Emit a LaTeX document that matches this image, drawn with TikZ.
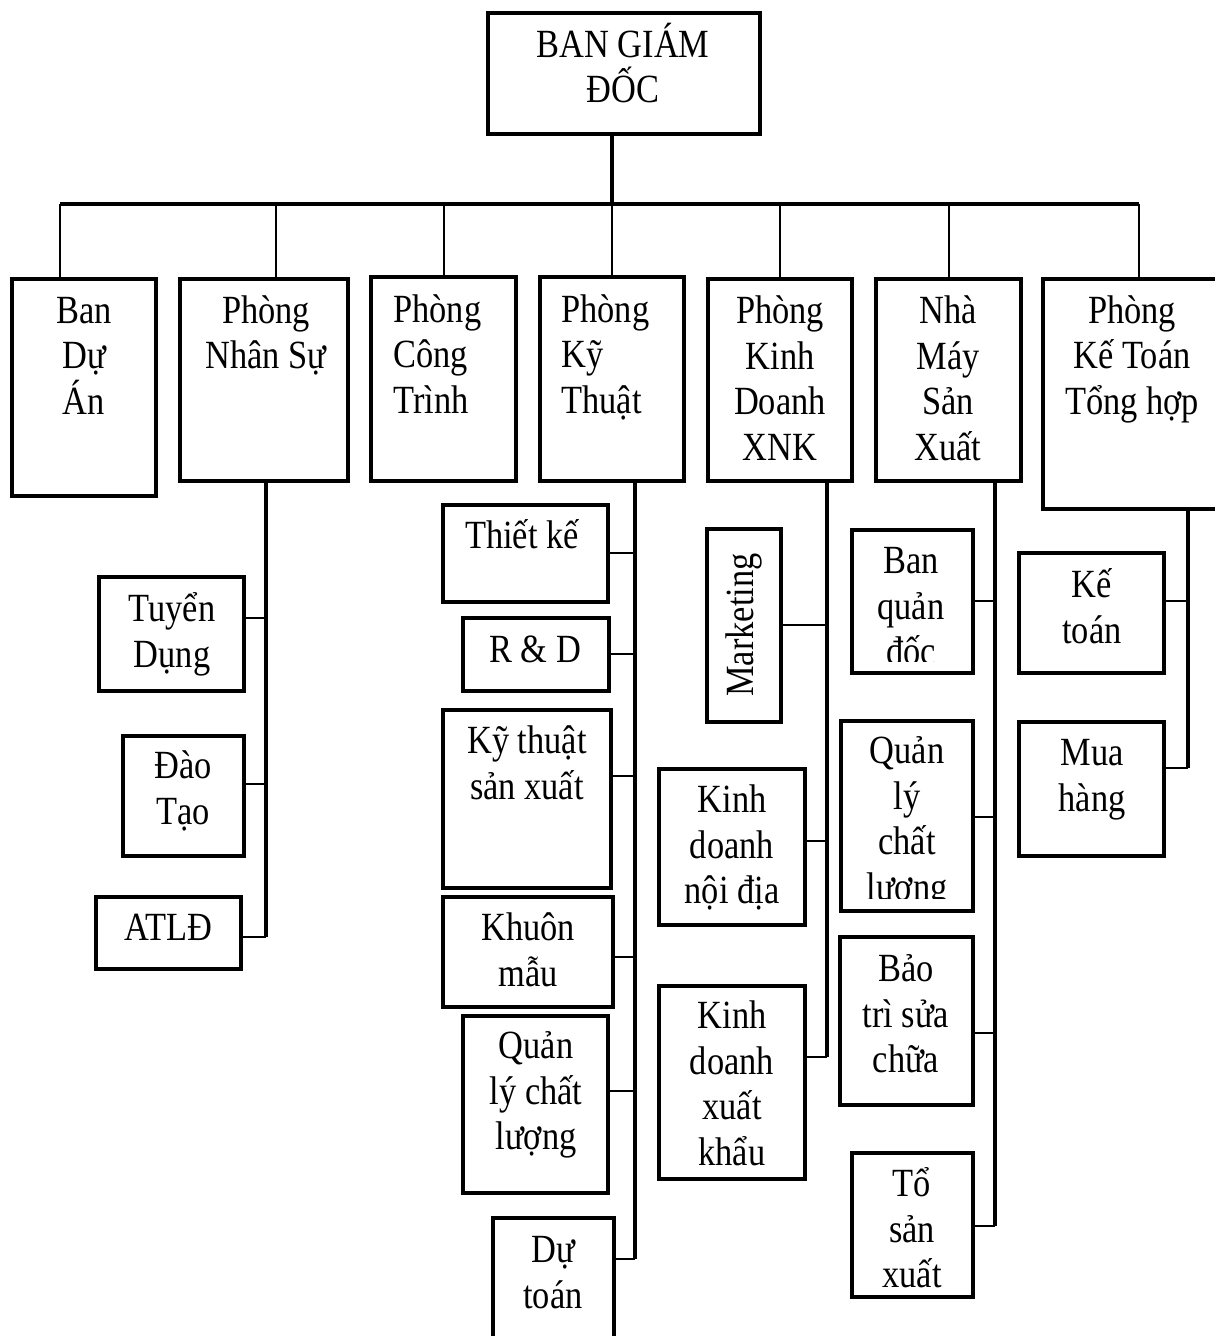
\documentclass[tikz,border=0pt]{standalone}
\usepackage{fontspec}
\setmainfont{Liberation Serif}[FakeStretch=0.86]
\newcommand\bx[5]{\node[bxs, minimum width={(#4-#2)*0.5pt}, minimum height={(#5-#3)*0.5pt}] (#1) at ({(#2+#4)/2},{(#3+#5)/2}) {};}
\newcommand\tx[4]{\node[lbl] (#1) at (#2,{#3-40}) {\rule{0pt}{20pt}#4};}
\newcommand\txl[4]{\node[lbll] (#1) at (#2,{#3-40}) {\rule{0pt}{20pt}#4};}
\newcommand\cnx[3]{\draw[cn] (#1.east |- 0,#3) -- (#2 |- 0,#3);}
\begin{document}
\begin{tikzpicture}[x=0.5pt,y=-0.5pt,
  bxs/.style={draw, rectangle, line width=2pt, inner sep=0pt},
  lbl/.style={inner sep=0pt, font=\fontsize{20}{22.8}\selectfont, align=center, anchor=north},
  lbll/.style={lbl, align=left, anchor=north west},
  busline/.style={line width=2.4pt},
  drop/.style={line width=1pt},
  spine/.style={line width=1.6pt},
  cn/.style={line width=1pt}]
\useasboundingbox (0,0) rectangle (1214,1336);

% top
\bx{bgd}{488}{13}{760}{134}
\tx{bgdT}{623}{57}{BAN GIÁM\\ĐỐC}

% level 1
\bx{bda}{12}{279}{156}{496}
\tx{bdaT}{84}{323}{Ban\\Dự\\Án}
\bx{pns}{180}{279}{348}{481}
\tx{pnsT}{266}{323}{Phòng\\Nhân Sự}
\bx{pct}{371}{277}{516}{481}
\txl{pctT}{393}{322}{Phòng\\Công\\Trình}
\bx{pkt}{540}{277}{684}{481}
\txl{pktT}{561}{322}{Phòng\\Kỹ\\Thuật}
\bx{xnk}{708}{279}{852}{481}
\tx{xnkT}{780}{323}{Phòng\\Kinh\\Doanh\\XNK}
\bx{nmsx}{876}{279}{1021}{481}
\tx{nmsxT}{948}{323}{Nhà\\Máy\\Sản\\Xuất}
\bx{pkto}{1043}{279}{1240}{509}
\tx{pktoT}{1132}{323}{Phòng\\Kế Toán\\Tổng hợp}

% bus
\coordinate (top) at (612,204);
\coordinate (busL) at (60,204);
\coordinate (busR) at (1139,204);
\draw[spine] (top |- bgd.south) -- (top);
\draw[busline] (busL) -- (busR);
\coordinate (d1) at (60,204);
\coordinate (d2) at (276,204);
\coordinate (d3) at (444,204);
\coordinate (d4) at (612,204);
\coordinate (d5) at (780,204);
\coordinate (d6) at (949,204);
\coordinate (d7) at (1139,204);
\draw[drop] (d1) -- (d1 |- bda.north);
\draw[drop] (d2) -- (d2 |- pns.north);
\draw[drop] (d3) -- (d3 |- pct.north);
\draw[drop] (d4) -- (d4 |- pkt.north);
\draw[drop] (d5) -- (d5 |- xnk.north);
\draw[drop] (d6) -- (d6 |- nmsx.north);
\draw[drop] (d7) -- (d7 |- pkto.north);

% spines
\coordinate (s2) at (266,937);
\coordinate (s4) at (635,1259);
\coordinate (s5) at (827,1057);
\coordinate (s6) at (995,1226);
\coordinate (s7) at (1188,768);
\draw[spine] (s2 |- pns.south) -- (s2);
\draw[spine] (s4 |- pkt.south) -- (s4);
\draw[spine] (s5 |- xnk.south) -- (s5);
\draw[spine] (s6 |- nmsx.south) -- (s6);
\draw[spine] (s7 |- pkto.south) -- (s7);

% Nhan Su children
\bx{tdung}{99}{577}{244}{691}
\tx{tdungT}{172}{621}{Tuyển\\Dụng}
\bx{dtao}{123}{736}{244}{856}
\tx{dtaoT}{183}{778}{Đào\\Tạo}
\bx{atld}{96}{897}{241}{969}
\tx{atldT}{168}{940}{ATLĐ}
\cnx{tdung}{s2}{618}
\cnx{dtao}{s2}{784}
\cnx{atld}{s2}{937}

% Ky Thuat children
\bx{tke}{443}{505}{608}{602}
\tx{tkeT}{522}{548}{Thiết kế}
\bx{rd}{463}{618}{609}{691}
\tx{rdT}{535}{662}{R \& D}
\bx{ktsx}{443}{710}{611}{888}
\tx{ktsxT}{527}{753}{Kỹ thuật\\sản xuất}
\bx{kmau}{443}{897}{613}{1007}
\tx{kmauT}{528}{940}{Khuôn\\mẫu}
\bx{qlcl}{463}{1016}{608}{1193}
\tx{qlclT}{536}{1058}{Quản\\lý chất\\lượng}
\bx{dtoan}{493}{1218}{614}{1370}
\tx{dtoanT}{553}{1262}{Dự\\toán}
\cnx{tke}{s4}{553}
\cnx{rd}{s4}{654}
\cnx{ktsx}{s4}{776}
\cnx{kmau}{s4}{957}
\cnx{qlcl}{s4}{1091}
\cnx{dtoan}{s4}{1259}

% XNK children
\bx{mkt}{707}{529}{781}{722}
\node[lbl, rotate=90, anchor=base] (mktT) at (753,625) {Marketing};
\bx{kdnd}{659}{769}{805}{925}
\tx{kdndT}{732}{812}{Kinh\\doanh\\nội địa}
\bx{kdxk}{659}{986}{805}{1179}
\tx{kdxkT}{732}{1028}{Kinh\\doanh\\xuất\\khẩu}
\cnx{mkt}{s5}{625}
\cnx{kdnd}{s5}{841}
\cnx{kdxk}{s5}{1057}

% Nha May children
\bx{bqd}{852}{530}{973}{673}
\begin{scope}
\clip (852,530) rectangle (973,661);
\tx{bqdT}{911}{573}{Ban\\quản\\đốc}
\end{scope}
\bx{qlcl2}{841}{721}{973}{911}
\begin{scope}
\clip (841,721) rectangle (973,898);
\tx{qlcl2T}{907}{763}{Quản\\lý\\chất\\lượng}
\end{scope}
\bx{btsc}{840}{937}{973}{1105}
\tx{btscT}{906}{981}{Bảo\\trì sửa\\chữa}
\bx{tsx}{852}{1153}{973}{1297}
\tx{tsxT}{912}{1196}{Tổ\\sản\\xuất}
\cnx{bqd}{s6}{601}
\cnx{qlcl2}{s6}{817}
\cnx{btsc}{s6}{1033}
\cnx{tsx}{s6}{1226}

% Ke Toan children
\bx{kto}{1019}{553}{1164}{673}
\tx{ktoT}{1092}{597}{Kế\\toán}
\bx{mhang}{1019}{722}{1164}{856}
\tx{mhangT}{1092}{765}{Mua\\hàng}
\cnx{kto}{s7}{601}
\cnx{mhang}{s7}{768}
\end{tikzpicture}
\end{document}
